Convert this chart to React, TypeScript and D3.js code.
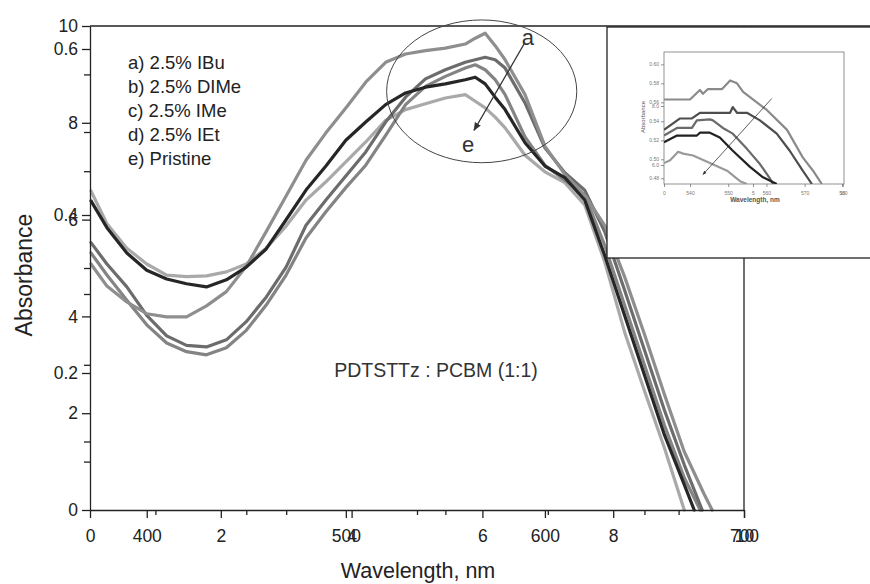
import React, { useEffect, useRef } from 'react';
import * as d3 from 'd3';

const FONT = '"Liberation Sans", Arial, sans-serif';

// main spectra, absorbance on a shared wavelength grid (nm)
const wavelengths = [372, 380, 390, 400, 410, 420, 430, 440, 450, 460, 470, 480, 490, 500, 510, 520, 530, 540, 550, 560, 565, 570, 575, 580, 590, 600, 610, 620, 630, 640, 650, 660, 670, 680];

const absIBu = [0.338, 0.31, 0.29, 0.275, 0.271, 0.271, 0.285, 0.303, 0.335, 0.379, 0.423, 0.466, 0.499, 0.529, 0.56, 0.584, 0.594, 0.598, 0.601, 0.606, 0.613, 0.619, 0.604, 0.587, 0.545, 0.483, 0.449, 0.424, 0.387, 0.322, 0.249, 0.169, 0.085, 0.023];
const absDIMe = [0.365, 0.338, 0.309, 0.273, 0.247, 0.235, 0.233, 0.242, 0.265, 0.296, 0.334, 0.387, 0.418, 0.447, 0.476, 0.512, 0.542, 0.564, 0.575, 0.584, 0.587, 0.59, 0.587, 0.577, 0.535, 0.481, 0.451, 0.43, 0.379, 0.305, 0.229, 0.146, 0.066];
const absIMe = [0.352, 0.324, 0.292, 0.261, 0.238, 0.227, 0.223, 0.232, 0.254, 0.286, 0.324, 0.371, 0.404, 0.433, 0.46, 0.496, 0.533, 0.555, 0.567, 0.577, 0.581, 0.575, 0.563, 0.545, 0.494, 0.46, 0.442, 0.424, 0.362, 0.286, 0.21, 0.124, 0.047];
const absIEt = [0.417, 0.384, 0.352, 0.33, 0.319, 0.313, 0.309, 0.318, 0.334, 0.357, 0.394, 0.43, 0.459, 0.49, 0.512, 0.533, 0.547, 0.554, 0.558, 0.563, 0.566, 0.558, 0.542, 0.527, 0.487, 0.459, 0.445, 0.418, 0.349, 0.273, 0.197, 0.11, 0.037];
const absPristine = [0.429, 0.389, 0.358, 0.338, 0.324, 0.322, 0.323, 0.328, 0.338, 0.358, 0.386, 0.418, 0.44, 0.464, 0.488, 0.514, 0.527, 0.534, 0.541, 0.545, 0.537, 0.529, 0.518, 0.505, 0.472, 0.452, 0.439, 0.412, 0.341, 0.252, 0.174, 0.091];
// wavelength where each curve reaches zero
const zeroAt = [684, 679, 678, 675, 670];

const labels = ['a) 2.5% IBu', 'b) 2.5% DIMe', 'c) 2.5% IMe', 'd) 2.5% IEt', 'e) Pristine'];
const colors = ['#8e8e8e', '#6c6c6c', '#848484', '#262626', '#a9a9a9'];
const drawOrder = [4, 2, 1, 0, 3];

// ticks: the scan shows two overlapping scales on each axis
const xTicks10 = [0, 2, 4, 6, 8, 10];
const xMinor10 = [1, 3, 5, 7, 9];
const xTicksNm = [400, 500, 600, 700];
const xMinorNm = [450, 550, 650];
const yTicks10 = [0, 2, 4, 6, 8, 10];
const yMinor10 = [1, 3, 5, 7, 9];
const yTicksAbs = [0.2, 0.4, 0.6];
const yMinorAbs = [0.1, 0.3, 0.5];

// inset: zoom on the peak
const insetNmA = [533.2, 540, 542.6, 543.4, 544.7, 548.4, 550.5, 552.3, 553.9, 560.1, 565.4, 569.5, 572.2, 574.5];
const insetAbsA = [0.563, 0.563, 0.573, 0.569, 0.574, 0.574, 0.583, 0.58, 0.571, 0.552, 0.531, 0.502, 0.488, 0.474];
const insetNmB = [533.2, 537.4, 540.5, 542.6, 550.5, 551.2, 552.3, 554.9, 558.3, 562.7, 566.1, 569.5, 571.9];
const insetAbsB = [0.531, 0.543, 0.543, 0.549, 0.549, 0.555, 0.549, 0.549, 0.541, 0.527, 0.509, 0.488, 0.474];
const insetNmC = [533.2, 536.6, 540.5, 541.8, 545.2, 546, 548.6, 551.2, 554.9, 558.3, 560.9, 561.7];
const insetAbsC = [0.525, 0.533, 0.533, 0.541, 0.542, 0.541, 0.533, 0.527, 0.511, 0.495, 0.48, 0.474];
const insetNmD = [533.2, 536.6, 541.8, 542.6, 545.2, 547.8, 551.2, 555.7, 559.1, 562.7];
const insetAbsD = [0.518, 0.525, 0.525, 0.528, 0.528, 0.523, 0.509, 0.492, 0.481, 0.474];
const insetNmE = [533.2, 534.8, 536.9, 538.2, 540.8, 545.2, 549.7, 553.1, 554.9];
const insetAbsE = [0.496, 0.499, 0.508, 0.506, 0.504, 0.496, 0.488, 0.477, 0.474];
const insetColors = ['#8a8a8a', '#4e4e4e', '#6a6a6a', '#222222', '#9a9a9a'];
const insetYTicks = [0.48, 0.5, 0.52, 0.54, 0.56, 0.58, 0.6];
const insetY2Ticks = [6, 8];
const insetXTicks = [540, 550, 560, 570, 580];
const insetX2Ticks = [0, 5, 10];

export default function App() {
  const axRef = useRef<SVGGElement>(null);
  const insetAxRef = useRef<SVGGElement>(null);

  const left = 90, right = 744, top = 26, bottom = 510;
  const x10 = d3.scaleLinear().domain([0, 10]).range([left, right]);
  const xNm = d3.scaleLinear().domain([371.5, 700]).range([left, right]);
  const y10 = d3.scaleLinear().domain([0, 10]).range([bottom, top]);
  const yAbs = d3.scaleLinear().domain([0, 0.2, 0.4, 0.6]).range([bottom, 373, 215, 49]);

  const spectra = [absIBu, absDIMe, absIMe, absIEt, absPristine].map((vals, i) => [
    ...vals.map((v, j) => [wavelengths[j], v] as [number, number]),
    [zeroAt[i], 0] as [number, number],
  ]);
  const line = d3.line<[number, number]>().x(d => xNm(d[0])).y(d => yAbs(d[1]));

  // inset geometry
  const ib = { l: 664, r: 844, t: 52, b: 184 };
  const ixNm = d3.scaleLinear().domain([533.2, 580.3]).range([ib.l, ib.r]);
  const ix10 = d3.scaleLinear().domain([0, 10]).range([ib.l, 842]);
  const iyAbs = d3.scaleLinear().domain([0.474, 0.613]).range([ib.b, ib.t]);
  const iy10 = d3.scaleLinear().domain([6, 8]).range([165, 106]);
  const insetSeries = [
    [insetNmA, insetAbsA], [insetNmB, insetAbsB], [insetNmC, insetAbsC], [insetNmD, insetAbsD], [insetNmE, insetAbsE],
  ].map(([xs, ys]) => xs.map((x, i) => [x, ys[i]] as [number, number]));
  const iline = d3.line<[number, number]>().x(d => ixNm(d[0])).y(d => iyAbs(d[1]));

  useEffect(() => {
    const g = d3.select(axRef.current);
    g.selectAll('*').remove();

    const style = (sel: any, size: number, keepDomain: boolean, sw = 1.3) => {
      if (!keepDomain) sel.select('.domain').remove();
      sel.select('.domain').attr('stroke', '#222').attr('stroke-width', sw);
      sel.selectAll('.tick line').attr('stroke', '#222').attr('stroke-width', sw);
      sel.selectAll('.tick text').attr('fill', '#222').attr('font-size', size).attr('font-family', FONT);
    };

    // left: 0–10 and absorbance scales on top of each other
    g.append('g').attr('transform', `translate(${left},0)`)
      .call(d3.axisLeft(y10).tickValues(yTicks10).tickSize(8).tickSizeOuter(0).tickPadding(4))
      .call((s: any) => style(s, 17.5, true));
    g.append('g').attr('transform', `translate(${left},0)`)
      .call(d3.axisLeft(y10).tickValues(yMinor10).tickSize(6).tickFormat(() => ''))
      .call((s: any) => style(s, 17.5, false));
    g.append('g').attr('transform', `translate(${left},0)`)
      .call(d3.axisLeft(yAbs).tickValues(yTicksAbs).tickSize(8).tickPadding(4).tickFormat(d3.format('.1f')))
      .call((s: any) => style(s, 17.5, false));
    g.append('g').attr('transform', `translate(${left},0)`)
      .call(d3.axisLeft(yAbs).tickValues(yMinorAbs).tickSize(6).tickFormat(() => ''))
      .call((s: any) => style(s, 17.5, false));

    // bottom: 0–10 and nm scales
    g.append('g').attr('transform', `translate(0,${bottom})`)
      .call(d3.axisBottom(x10).tickValues(xTicks10).tickSize(8).tickSizeOuter(0).tickPadding(12))
      .call((s: any) => style(s, 17.5, true));
    g.append('g').attr('transform', `translate(0,${bottom})`)
      .call(d3.axisBottom(x10).tickValues(xMinor10).tickSize(5).tickFormat(() => ''))
      .call((s: any) => style(s, 17.5, false));
    g.append('g').attr('transform', `translate(0,${bottom})`)
      .call(d3.axisBottom(xNm).tickValues(xTicksNm).tickSize(8).tickPadding(12))
      .call((s: any) => style(s, 17.5, false));
    g.append('g').attr('transform', `translate(0,${bottom})`)
      .call(d3.axisBottom(xNm).tickValues(xMinorNm).tickSize(5).tickFormat(() => ''))
      .call((s: any) => style(s, 17.5, false));
  }, []);

  useEffect(() => {
    const g = d3.select(insetAxRef.current);
    g.selectAll('*').remove();
    const style = (sel: any) => {
      sel.select('.domain').remove();
      sel.selectAll('.tick line').attr('stroke', '#666').attr('stroke-width', 0.7);
      sel.selectAll('.tick text').attr('fill', '#777').attr('font-size', 5).attr('font-family', FONT);
    };
    g.append('g').attr('transform', `translate(${ib.l},0)`)
      .call(d3.axisLeft(iyAbs).tickValues(insetYTicks).tickSize(3).tickPadding(2).tickFormat(d3.format('.2f')))
      .call(style);
    g.append('g').attr('transform', `translate(${ib.l},0)`)
      .call(d3.axisLeft(iy10).tickValues(insetY2Ticks).tickSize(3).tickPadding(2))
      .call(style);
    g.append('g').attr('transform', `translate(0,${ib.b})`)
      .call(d3.axisBottom(ixNm).tickValues(insetXTicks).tickSize(3).tickPadding(4))
      .call(style);
    g.append('g').attr('transform', `translate(0,${ib.b})`)
      .call(d3.axisBottom(ix10).tickValues(insetX2Ticks).tickSize(3).tickPadding(4))
      .call(style);
  }, []);

  // annotation: ellipse round the peaks, arrow from a to e
  const ellCx = (xNm(520.5) + xNm(616)) / 2;
  const ellRx = (xNm(616) - xNm(520.5)) / 2;
  const ellCy = (yAbs(0.635) + yAbs(0.463)) / 2;
  const ellRy = (yAbs(0.463) - yAbs(0.635)) / 2;

  return (
    <svg width={870} height={584} style={{ position: 'absolute', left: 0, top: 0, background: '#fff' }}>
      <defs>
        <marker id="arrowHead" viewBox="0 0 10 10" refX="9" refY="5" markerWidth="7" markerHeight="7" orient="auto">
          <path d="M0,1 L10,5 L0,9 z" fill="#333" />
        </marker>
        <marker id="arrowSmall" viewBox="0 0 10 10" refX="9" refY="5" markerWidth="5" markerHeight="5" orient="auto">
          <path d="M0,1 L10,5 L0,9 z" fill="#333" />
        </marker>
        <clipPath id="insetClip">
          <rect x={ib.l} y={ib.t} width={ib.r - ib.l} height={ib.b - ib.t} />
        </clipPath>
      </defs>

      {/* frame */}
      <line x1={left} x2={870} y1={top} y2={top} stroke="#222" strokeWidth={1.3} />
      <line x1={right} x2={right} y1={top} y2={bottom} stroke="#222" strokeWidth={1.3} />

      {/* spectra */}
      {drawOrder.map(i => (
        <path key={i} d={line(spectra[i]) || ''} fill="none" stroke={colors[i]} strokeWidth={3.2}
          strokeLinejoin="round" strokeLinecap="round" />
      ))}

      <g ref={axRef} />

      {/* legend */}
      {labels.map((t, i) => (
        <text key={t} x={128} y={69 + i * 24} fontSize={18.5} fontFamily={FONT} fill="#222">{t}</text>
      ))}

      <text x={xNm(545.3)} y={yAbs(0.194)} textAnchor="middle" fontSize={19.5} fontFamily={FONT} fill="#333">
        PDTSTTz : PCBM (1:1)
      </text>

      <ellipse cx={ellCx} cy={ellCy} rx={ellRx} ry={ellRy} fill="none" stroke="#444" strokeWidth={1} />
      <line x1={xNm(590)} y1={yAbs(0.608)} x2={xNm(564.4)} y2={yAbs(0.502)} stroke="#333" strokeWidth={1.2}
        markerEnd="url(#arrowHead)" />
      <text x={xNm(591.5)} y={yAbs(0.605)} textAnchor="middle" fontSize={22} fontFamily={FONT} fill="#333">a</text>
      <text x={xNm(561.4)} y={yAbs(0.476)} textAnchor="middle" fontSize={22} fontFamily={FONT} fill="#333">e</text>

      {/* axis titles */}
      <text x={418} y={578} textAnchor="middle" fontSize={21.5} fontFamily={FONT} fill="#222">Wavelength, nm</text>
      <text transform="translate(32,275) rotate(-90)" textAnchor="middle" fontSize={23} fontFamily={FONT} fill="#222">
        Absorbance
      </text>

      {/* inset */}
      <rect x={607} y={27} width={280} height={231} fill="#fff" stroke="#222" strokeWidth={1.3} />
      <rect x={ib.l} y={ib.t} width={ib.r - ib.l} height={ib.b - ib.t} fill="none" stroke="#777" strokeWidth={0.8} />
      <g clipPath="url(#insetClip)">
        {[4, 2, 1, 0, 3].map(i => (
          <path key={i} d={iline(insetSeries[i]) || ''} fill="none" stroke={insetColors[i]} strokeWidth={2.2}
            strokeLinejoin="round" />
        ))}
      </g>
      <line x1={ixNm(561.4)} y1={iyAbs(0.564)} x2={ixNm(543.4)} y2={iyAbs(0.484)} stroke="#333" strokeWidth={0.8}
        markerEnd="url(#arrowSmall)" />
      <g ref={insetAxRef} />
      <text transform="translate(645,117) rotate(-90)" textAnchor="middle" fontSize={6} fontFamily={FONT} fill="#555">
        Absorbance
      </text>
      <text x={755} y={202} textAnchor="middle" fontSize={6.5} fontWeight="bold" fontFamily={FONT} fill="#555">
        Wavelength, nm
      </text>
    </svg>
  );
}
